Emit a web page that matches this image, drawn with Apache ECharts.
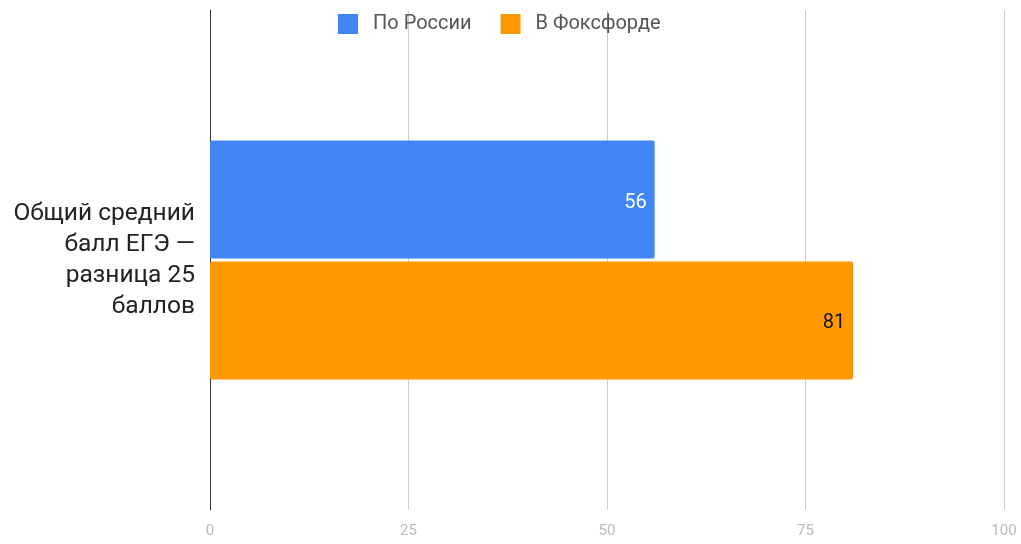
<!DOCTYPE html>
<html>
<head>
<meta charset="utf-8">
<script src="https://cdn.jsdelivr.net/npm/echarts@6/dist/echarts.min.js"></script>
<style>
  html, body { margin: 0; padding: 0; background: #fff; }
  #main { width: 1021px; height: 544px; }
</style>
</head>
<body>
<div id="main"></div>
<script>
// categories and values
var categories = ['Общий средний\nбалл ЕГЭ —\nразница 25\nбаллов'];
var russia = [56];
var foxford = [81];
var seriesNames = ['По России', 'В Фоксфорде'];
var xTicks = [0, 25, 50, 75, 100];

var option = {
    animation: false,
    textStyle: { fontFamily: 'Roboto' },
    legend: {
        left: 333,
        top: 9,
        itemWidth: 20,
        itemHeight: 20,
        itemGap: 29,
        icon: 'rect',
        itemStyle: { borderRadius: 2 },
        textStyle: { fontSize: 20, color: '#555', fontFamily: 'Roboto', padding: [0, 0, 0, 10] },
        data: seriesNames
    },
    grid: {
        left: 210,
        right: 17,
        top: 10,
        bottom: 34
    },
    xAxis: {
        type: 'value',
        min: xTicks[0],
        max: xTicks[xTicks.length - 1],
        interval: 25,
        axisLine: { show: false },
        axisTick: { show: false },
        splitLine: { lineStyle: { color: '#ccc', width: 1 } },
        axisLabel: { color: '#bbb', fontSize: 15, margin: 14, fontFamily: 'Roboto' }
    },
    yAxis: {
        type: 'category',
        data: categories,
        axisLine: { show: true, lineStyle: { color: '#333', width: 1 } },
        axisTick: { show: false },
        axisLabel: {
            color: '#222',
            fontSize: 24.5,
            lineHeight: 31,
            margin: 15,
            align: 'right',
            padding: [14, 0, 0, 0],
            fontFamily: 'Roboto'
        }
    },
    series: [
        {
            name: seriesNames[0],
            type: 'bar',
            data: russia,
            barWidth: 118,
            barGap: '2.5%',
            itemStyle: { color: '#4285f4', borderRadius: 2 },
            label: {
                show: true,
                position: 'insideRight',
                distance: 8,
                offset: [0, 3],
                color: '#fff',
                fontSize: 20,
                fontFamily: 'Roboto'
            }
        },
        {
            name: seriesNames[1],
            type: 'bar',
            data: foxford,
            barWidth: 118,
            itemStyle: { color: '#ff9900', borderRadius: 2 },
            label: {
                show: true,
                position: 'insideRight',
                distance: 8,
                offset: [0, 3],
                color: '#111',
                fontSize: 20,
                fontFamily: 'Roboto'
            }
        }
    ]
};

var myChart = echarts.init(document.getElementById('main'));
myChart.setOption(option);
</script>
</body>
</html>
